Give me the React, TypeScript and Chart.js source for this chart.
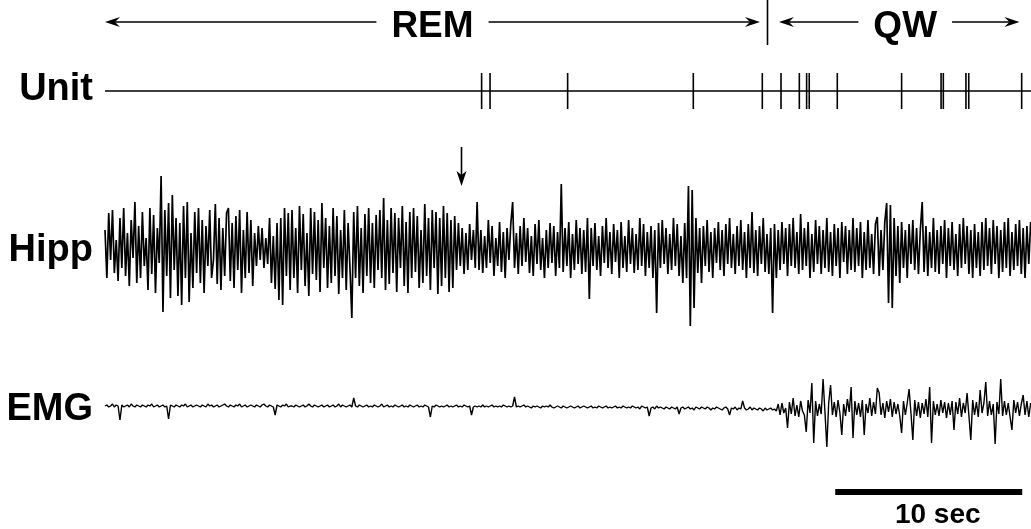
import React, { useEffect, useRef } from "react";
import { Chart, registerables } from "chart.js";

Chart.register(...registerables);

// ---------------- DATA ----------------
const SAMPLE_DT = 0.1; // seconds between samples
const RECORD_END = 49.52; // seconds shown

// Hippocampal EEG (arbitrary units, + = up)
const hippValues = [
  18,-30,35,-12,38,-25,8,-33,30,-20,40,-28,15,-38,28,-10,46,-35,22,-30,
  36,-18,10,-42,40,-26,33,-45,20,-15,72,-64,38,-28,45,-50,53,-22,30,-48,
  25,-57,42,-30,46,-54,15,-40,36,-25,40,-35,28,-45,22,-18,38,-30,-12,44,
  -36,30,-42,20,-28,35,40,-33,25,-40,32,-22,38,-45,18,-30,36,-25,28,-38,
  15,-18,22,-12,20,-20,10,-16,30,-35,12,-41,25,-52,30,-57,40,-28,35,-42,
  38,-30,20,-45,42,-22,34,-38,15,-48,40,-26,36,-32,28,-44,45,-20,30,-40,
  22,-35,40,-28,32,-46,18,-30,38,-42,25,-20,-70,36,-30,42,-38,20,-45,34,
  -28,40,-35,25,-40,33,-22,38,-30,50,-42,28,-36,40,-25,35,-44,30,-20,42,
  -38,26,-45,36,-30,40,-24,32,-40,18,-35,44,-28,30,-42,38,-20,36,-46,30,
  -38,42,-30,35,-44,28,-40,32,-22,25,-18,20,-26,15,-22,24,-12,18,-20,46,
  -22,18,-25,12,-20,28,-15,22,-28,10,-18,26,-24,16,-30,20,-12,24,46,-20,
  15,-26,22,-18,30,-14,20,-25,12,-28,24,-16,28,-22,10,-30,18,-20,25,-15,
  22,-28,16,-20,64,-24,20,-18,26,-30,14,-22,28,-16,20,-26,18,-24,30,-51,
  20,-18,25,-22,12,-28,22,-15,30,-20,16,-26,24,-14,18,-30,26,-20,12,-24,
  28,-16,20,-25,14,-22,30,-18,24,-28,16,-20,22,-30,18,-65,25,-20,28,-16,
  20,-26,14,-22,30,-18,24,-28,12,-35,25,-30,62,-78,58,-60,30,-25,20,-35,
  22,-18,28,-24,16,-30,20,-15,26,-22,18,-28,24,-16,30,-20,14,-26,22,-18,
  28,-22,16,-30,24,-20,36,-25,18,-28,22,-16,30,-24,14,-26,20,-65,24,-30,
  18,-22,26,-16,20,-28,24,-18,30,-20,16,-26,34,-22,20,-18,26,-30,14,-24,
  28,-16,22,-26,18,-20,30,-24,16,-28,24,-18,20,-30,26,-14,22,-26,18,-22,
  30,-24,20,-18,26,-30,16,-22,28,-20,14,-26,24,31,-28,18,-22,26,45,-55,
  43,-60,30,-28,22,-35,26,-20,18,-30,24,-16,28,-22,20,-26,18,46,-24,22,
  -28,16,-20,30,-24,18,-26,22,-16,28,-30,20,-18,26,-22,14,-28,24,-20,30,
  -16,22,-26,18,-30,24,-20,16,-28,26,-22,30,-18,20,-26,28,-16,22,-30,18,
  -24,26,-20,30,-28,16,-22,24,-18,28,-26,20,-30,22,-16,26,
];

// EMG (arbitrary units, + = up)
const emgValues = [
  1,2,0,1,3,0,2,1,-13,2,0,1,2,0,3,1,0,2,1,0,
  2,1,0,2,1,3,0,1,2,0,1,2,0,1,-12,2,1,0,2,1,
  0,2,1,3,0,1,2,0,1,2,1,0,2,1,0,3,1,2,0,1,
  2,0,1,2,3,1,0,2,1,0,2,1,3,0,1,2,0,1,2,1,
  0,2,1,0,2,3,1,0,2,1,0,-8,2,1,0,2,1,3,0,1,
  1,0,2,1,0,1,2,0,1,3,1,0,2,1,0,1,2,0,1,2,
  0,1,2,0,1,3,0,2,1,0,1,2,0,9,1,0,2,1,0,1,
  2,0,1,0,2,1,0,1,3,0,1,2,0,1,0,2,1,0,1,2,
  0,1,0,2,1,0,1,2,0,1,0,2,1,0,-10,1,0,2,1,0,
  1,0,1,2,0,1,0,1,2,0,1,0,2,1,0,1,-8,0,1,0,
  1,0,2,0,1,0,1,2,0,1,0,1,0,2,1,0,1,0,1,10,
  0,1,0,1,2,0,1,0,-1,1,0,1,0,-1,1,0,1,0,2,0,
  -1,0,1,0,-1,1,0,-1,0,1,0,-1,0,1,-1,0,1,0,-1,0,
  1,-1,0,-1,1,0,-1,0,1,-1,0,-1,0,1,-1,0,-1,1,0,-1,
  0,-1,1,0,-1,0,-2,1,0,-1,0,-9,-1,0,-2,1,-1,0,-1,-2,
  0,-1,-2,0,-1,-2,0,-7,-1,0,-2,-1,0,-2,-1,-3,0,-1,-2,0,
  -1,-2,0,-1,-3,-1,-2,0,-1,-2,-3,-1,0,-2,-8,-1,-2,0,-3,-1,
  -2,6,-1,-3,-2,0,-3,-1,-2,-3,-1,-2,-4,-1,-3,-2,-1,-3,-2,-4,
  3,-8,4,-6,-1,-21,5,-7,9,-9,2,-10,6,-4,-8,-25,7,-6,24,-36,
  6,-9,3,-7,28,-5,-40,4,22,-8,5,-10,7,-6,-28,3,-9,8,-5,20,
  -31,6,-8,4,-10,7,-28,3,-6,9,-9,5,-7,19,14,-8,4,-11,6,-5,
  8,-10,5,-7,3,-9,-26,6,-8,4,18,-6,-33,7,-9,5,-11,4,-7,8,
  -10,20,-36,6,-8,3,-9,7,-6,5,-11,4,-8,6,-23,5,-7,9,-10,4,
  -6,14,-9,-33,7,-8,5,-10,17,-6,4,25,-9,6,-8,3,-37,5,-7,28,
  -9,6,-8,4,-10,-23,7,-6,5,-9,3,12,-8,6,-10,4,
];

// Unit spike times (s)
const unitSpikeTimes = [
  20.14, 20.59, 24.74, 31.46, 35.15, 36.15, 37.13, 37.52, 37.66,
  39.16, 42.6, 44.71, 44.83, 46.04, 46.19, 49.02,
];
const unitSpikeHeight = 18;

// Behavioural stages
const stageNames = ["REM", "QW"];
const stageBounds = [0, 35.4, 48.9];

// Event marker (down arrow) time
const markerTime = 19.05;

// Trace labels
const traceLabels = ["Unit", "Hipp", "EMG"];

// Scale bar
const scaleBarStart = 39.05;
const scaleBarSeconds = 10;
const scaleBarLabel = "10 sec";

// ---------------- LAYOUT (pixels) ----------------
const W = 1031;
const H = 529;
const PX_PER_SEC = 18.7;
const TRACE_LEFT_PX = 105;
const unitCenterPx = 91;
const hippCenterPx = 248;
const emgCenterPx = 407;
const barCenterPx = 492;
const labelBaselines = [100, 261, 420];
const FONT = '"Liberation Sans", Arial, Helvetica, sans-serif';

function axisFor(centerPx: number) {
  return { type: "linear" as const, display: false, min: centerPx - H, max: centerPx };
}

const annotationsPlugin = {
  id: "annotations",
  afterDatasetsDraw(chart: any) {
    const ctx = chart.ctx as CanvasRenderingContext2D;
    const xs = chart.scales.x;
    const px = (t: number) => xs.getPixelForValue(t);
    ctx.save();
    ctx.fillStyle = "#000";
    ctx.strokeStyle = "#000";

    const head = (x: number, y: number, dir: number) => {
      ctx.beginPath();
      ctx.moveTo(x, y);
      ctx.lineTo(x - dir * 15, y - 5);
      ctx.lineTo(x - dir * 10, y);
      ctx.lineTo(x - dir * 15, y + 5);
      ctx.closePath();
      ctx.fill();
    };

    // stage arrows
    const arrowY = 22;
    ctx.font = `bold 37px ${FONT}`;
    ctx.textAlign = "center";
    ctx.textBaseline = "alphabetic";
    stageNames.forEach((name, i) => {
      const x0 = px(stageBounds[i]) + (i === 0 ? 0 : 12);
      const x1 = px(stageBounds[i + 1]) - (i === stageNames.length - 1 ? 0 : 7);
      const mid = (x0 + x1) / 2 + (i === 0 ? 0 : 6);
      const tw = ctx.measureText(name).width;
      const g = tw / 2 + 15;
      ctx.lineWidth = 1.6;
      ctx.beginPath();
      ctx.moveTo(x0 + 8, arrowY);
      ctx.lineTo(mid - g, arrowY);
      ctx.moveTo(mid + g, arrowY);
      ctx.lineTo(x1 - 8, arrowY);
      ctx.stroke();
      head(x0, arrowY, -1);
      head(x1, arrowY, 1);
      ctx.fillText(name, mid, 37);
    });
    // stage separators
    for (let i = 1; i < stageBounds.length - 1; i++) {
      const x = Math.round(px(stageBounds[i])) + 0.5;
      ctx.lineWidth = 1.6;
      ctx.beginPath();
      ctx.moveTo(x, 0);
      ctx.lineTo(x, 45);
      ctx.stroke();
    }

    // marker arrow
    const mx = Math.round(px(markerTime)) + 0.5;
    ctx.lineWidth = 1.6;
    ctx.beginPath();
    ctx.moveTo(mx, 147);
    ctx.lineTo(mx, 178);
    ctx.stroke();
    ctx.beginPath();
    ctx.moveTo(mx, 186);
    ctx.lineTo(mx - 5, 171);
    ctx.lineTo(mx, 175);
    ctx.lineTo(mx + 5, 171);
    ctx.closePath();
    ctx.fill();

    // trace labels
    ctx.font = `bold 38px ${FONT}`;
    ctx.textAlign = "right";
    traceLabels.forEach((l, i) => ctx.fillText(l, 93, labelBaselines[i]));

    // scale bar label
    ctx.font = `bold 28px ${FONT}`;
    ctx.textAlign = "center";
    const bx = (px(scaleBarStart) + px(scaleBarStart + scaleBarSeconds)) / 2 + 9;
    ctx.fillText(scaleBarLabel, bx, 523);
    ctx.restore();
  },
};

export default function App() {
  const ref = useRef<HTMLCanvasElement | null>(null);
  useEffect(() => {
    document.body.style.margin = "0";
    document.body.style.background = "#fff";
    const canvas = ref.current;
    if (!canvas) return;

    const hippData = hippValues.map((v, i) => ({ x: i * SAMPLE_DT, y: v }));
    const emgData = emgValues.map((v, i) => ({ x: i * SAMPLE_DT, y: v }));
    const unitData: { x: number; y: number }[] = [{ x: 0, y: 0 }];
    unitSpikeTimes.forEach((t) => {
      unitData.push({ x: t, y: 0 }, { x: t, y: unitSpikeHeight }, { x: t, y: -unitSpikeHeight }, { x: t, y: 0 });
    });
    unitData.push({ x: RECORD_END, y: 0 });
    const barData = [
      { x: scaleBarStart, y: 0 },
      { x: scaleBarStart + scaleBarSeconds, y: 0 },
    ];

    const common = {
      pointRadius: 0,
      tension: 0,
      fill: false,
      borderColor: "#000",
      borderJoinStyle: "bevel" as const,
    };

    const chart = new Chart(canvas, {
      type: "line",
      data: {
        datasets: [
          { ...common, label: "Unit", data: unitData, yAxisID: "yUnit", borderWidth: 1.6 },
          { ...common, label: "Hipp", data: hippData, yAxisID: "yHipp", borderWidth: 1.7 },
          { ...common, label: "EMG", data: emgData, yAxisID: "yEmg", borderWidth: 1.4 },
          { ...common, label: "scale", data: barData, yAxisID: "yBar", borderWidth: 6, borderCapStyle: "butt" },
        ],
      },
      options: {
        animation: false,
        responsive: false,
        maintainAspectRatio: false,
        layout: { padding: 0 },
        plugins: { legend: { display: false }, tooltip: { enabled: false }, title: { display: false } },
        events: [],
        scales: {
          x: {
            type: "linear",
            display: false,
            min: -TRACE_LEFT_PX / PX_PER_SEC,
            max: (W - TRACE_LEFT_PX) / PX_PER_SEC,
          },
          yUnit: axisFor(unitCenterPx),
          yHipp: axisFor(hippCenterPx),
          yEmg: axisFor(emgCenterPx),
          yBar: axisFor(barCenterPx),
        },
      },
      plugins: [annotationsPlugin],
    });
    return () => chart.destroy();
  }, []);

  return (
    <div style={{ width: W, height: H, background: "#fff" }}>
      <canvas ref={ref} width={W} height={H} style={{ display: "block", width: W, height: H }} />
    </div>
  );
}
